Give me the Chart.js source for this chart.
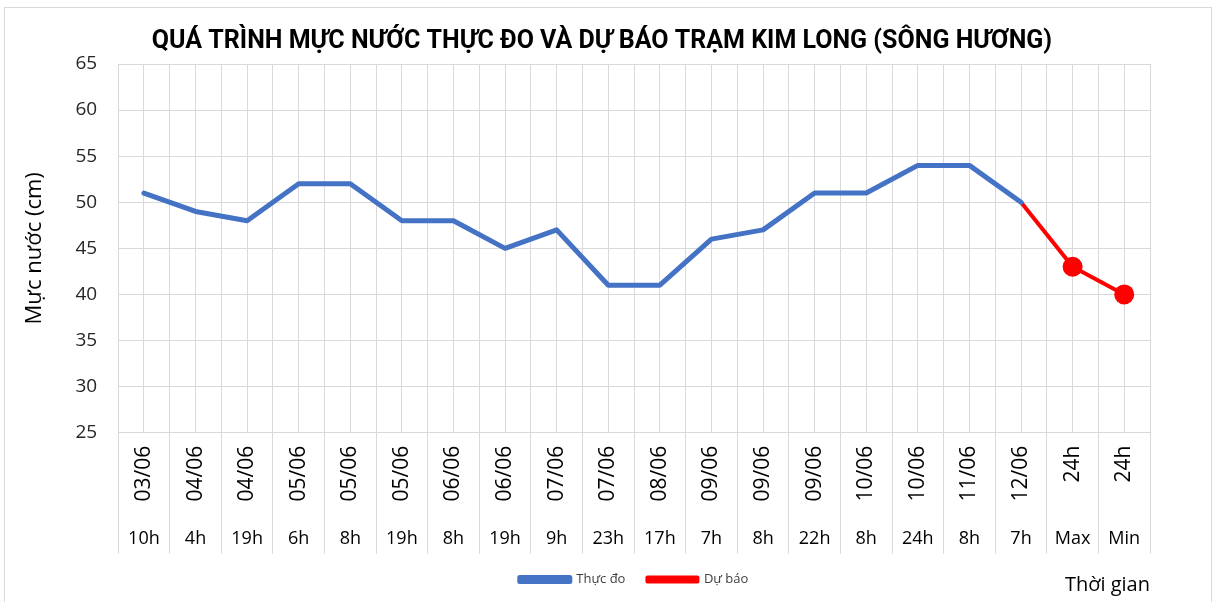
<!DOCTYPE html>
<html>
<head>
<meta charset="utf-8">
<script src="https://cdn.jsdelivr.net/npm/chart.js@4/dist/chart.umd.min.js"></script>
<style>
  html, body { margin: 0; padding: 0; background: #fff; }
  #wrap { position: relative; width: 1217px; height: 602px; }
  #frame { position: absolute; left: 4px; top: 7px; width: 1206px; height: 600px; border: 1px solid #d9d9d9; pointer-events: none; }
</style>
</head>
<body>
<div id="wrap">
  <canvas id="chart" width="1217" height="602"></canvas>
  <div id="frame"></div>
</div>
<script>
// nhãn trục hoành: ngày (dòng trên, xoay dọc) và giờ (dòng dưới)
const dateLabels = ['03/06', '04/06', '04/06', '05/06', '05/06', '05/06', '06/06', '06/06', '07/06', '07/06',
                    '08/06', '09/06', '09/06', '09/06', '10/06', '10/06', '11/06', '12/06', '24h', '24h'];
const hourLabels = ['10h', '4h', '19h', '6h', '8h', '19h', '8h', '19h', '9h', '23h',
                    '17h', '7h', '8h', '22h', '8h', '24h', '8h', '7h', 'Max', 'Min'];

// mực nước (cm)
const thucDo = [51, 49, 48, 52, 52, 48, 48, 45, 47, 41, 41, 46, 47, 51, 51, 54, 54, 50, null, null];
const duBao  = [null, null, null, null, null, null, null, null, null, null,
                null, null, null, null, null, null, null, 50, 43, 40];

const yMin = 25, yMax = 65, yStep = 5;

const FONT = "'Open Sans', 'Noto Sans', sans-serif";
const GRID = '#d9d9d9';

new Chart(document.getElementById('chart'), {
    type: 'line',
    data: {
        labels: hourLabels,
        datasets: [
            {
                label: 'Thực đo',
                data: thucDo,
                borderColor: '#4472C4',
                backgroundColor: '#4472C4',
                borderWidth: 5,
                pointRadius: 0,
                borderJoinStyle: 'round',
                borderCapStyle: 'round',
                tension: 0,
            },
            {
                label: 'Dự báo',
                data: duBao,
                borderColor: '#FF0000',
                backgroundColor: '#FF0000',
                borderWidth: 4,
                pointRadius: ctx => ctx.dataIndex > 17 ? 10 : 0,
                pointBackgroundColor: '#FF0000',
                pointBorderWidth: 0,
                borderJoinStyle: 'round',
                tension: 0,
            }
        ]
    },
    options: {
        responsive: false,
        animation: false,
        layout: { padding: { left: 22, right: 35, top: 0, bottom: 6 } },
        plugins: {
            title: {
                display: true,
                text: 'QUÁ TRÌNH MỰC NƯỚC THỰC ĐO VÀ DỰ BÁO TRẠM KIM LONG (SÔNG HƯƠNG)',
                color: '#000',
                font: { family: "Roboto, 'Open Sans', sans-serif", size: 25, weight: 'bold' },
                padding: { top: 27, bottom: 7 }
            },
            legend: {
                position: 'bottom',
                fullSize: false,
                labels: {
                    boxWidth: 50,
                    boxHeight: 4,
                    color: '#404040',
                    font: { family: FONT, size: 13 },
                    padding: 22
                }
            },
            tooltip: { enabled: false }
        },
        scales: {
            x: {
                type: 'category',
                position: 'bottom',
                offset: true,
                grid: { offset: false, color: GRID, drawTicks: false },
                border: { display: false },
                ticks: { display: false }
            },
            xDate: {
                type: 'category',
                position: 'bottom',
                offset: true,
                grid: { offset: true, color: GRID, tickLength: 121 },
                border: { color: GRID },
                ticks: {
                    autoSkip: false,
                    minRotation: 90,
                    maxRotation: 90,
                    padding: -108,
                    color: '#000',
                    font: { family: FONT, size: 21 },
                    callback: (v, i) => dateLabels[i]
                },
                // chừa chỗ cho dòng ngày
                title: { display: true, text: ' ', font: { size: 10 }, padding: { top: 110, bottom: 0 } }
            },
            xHour: {
                type: 'category',
                position: 'bottom',
                offset: true,
                grid: { display: false },
                border: { display: false },
                ticks: {
                    autoSkip: false,
                    maxRotation: 0,
                    padding: 5,
                    color: '#000',
                    font: { family: FONT, size: 18 },
                    callback: (v, i) => hourLabels[i]
                },
                title: {
                    display: true,
                    text: 'Thời gian',
                    align: 'end',
                    color: '#000',
                    font: { family: FONT, size: 20 },
                    padding: { top: 18, bottom: -46 }
                }
            },
            y: {
                min: yMin,
                max: yMax,
                grid: { color: GRID, drawTicks: false },
                border: { display: false },
                ticks: {
                    stepSize: yStep,
                    padding: 21,
                    color: '#262626',
                    font: { family: FONT, size: 19 }
                },
                title: {
                    display: true,
                    text: 'Mực nước (cm)',
                    color: '#000',
                    font: { family: FONT, size: 22 },
                    padding: { top: 0, bottom: 6 }
                }
            },
            // khoảng trống bên phải vùng vẽ
            yRight: {
                type: 'linear',
                position: 'right',
                grid: { display: false },
                border: { display: false },
                ticks: { display: false },
                title: { display: true, text: ' ', font: { size: 10 }, padding: { top: 12, bottom: 0 } }
            }
        }
    }
});
</script>
</body>
</html>
